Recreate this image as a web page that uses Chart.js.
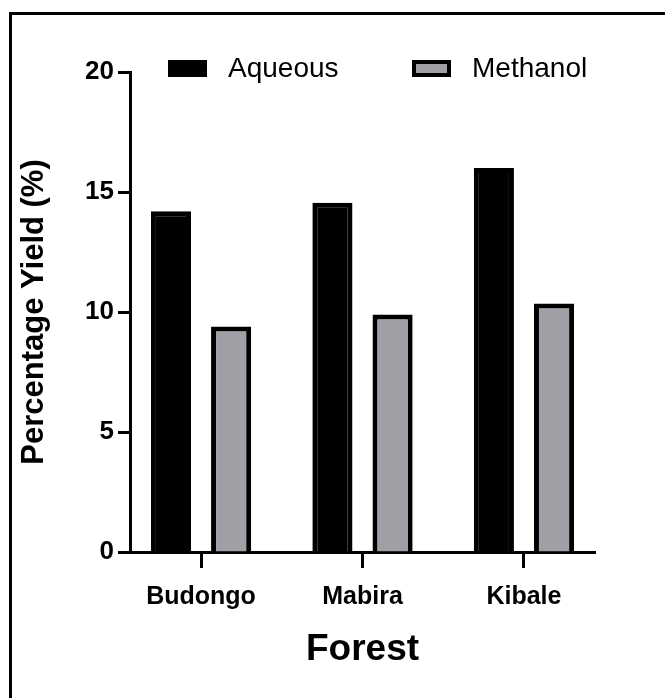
<!DOCTYPE html>
<html>
<head>
<meta charset="utf-8">
<script src="https://cdn.jsdelivr.net/npm/chart.js@4.4.1/dist/chart.umd.min.js"></script>
<style>
  body { margin: 0; background: #fff; }
  #frame { position: absolute; left: 9px; top: 12px; width: 700px; height: 700px; border-left: 3px solid #000; border-top: 3px solid #000; }
  #wrap { position: absolute; left: 0; top: 0; width: 665px; height: 698px; }
</style>
</head>
<body>
<div id="frame"></div>
<div id="wrap"><canvas id="myChart" width="665" height="698"></canvas></div>
<script>
// yields
var forests = ["Budongo", "Mabira", "Kibale"];
var aqueous = [14.2, 14.55, 16.0];
var methanol = [9.4, 9.9, 10.35];
var yTicks = [0, 5, 10, 15, 20];

var fontFam = "'Liberation Sans', Arial, sans-serif";

// legend drawn by hand so it can sit beside the 20 tick like the figure
var legendX = [168, 412];
var topLegend = {
    id: 'topLegend',
    afterDraw: function (chart) {
        var c = chart.ctx;
        c.save();
        c.font = "28px " + fontFam;
        c.textBaseline = 'middle';
        chart.data.datasets.forEach(function (ds, i) {
            var x = legendX[i];
            c.fillStyle = ds.borderColor;
            c.fillRect(x, 60, 39, 17);
            c.fillStyle = ds.backgroundColor;
            c.fillRect(x + 4, 64, 31, 9);
            c.fillStyle = '#000';
            c.fillText(ds.label, x + 60, 69);
        });
        c.restore();
    }
};

var ctx = document.getElementById('myChart').getContext('2d');
var chart = new Chart(ctx, {
    type: 'bar',
    data: {
        labels: forests,
        datasets: [{
            label: "Aqueous",
            data: aqueous,
            backgroundColor: '#000000',
            borderColor: '#000000',
            borderWidth: 5
        }, {
            label: "Methanol",
            data: methanol,
            backgroundColor: '#a09fa5',
            borderColor: '#000000',
            borderWidth: 5
        }]
    },
    plugins: [topLegend],
    options: {
        responsive: false,
        animation: false,
        layout: { padding: { top: 72, left: 0, right: 70, bottom: 26 } },
        datasets: { bar: { categoryPercentage: 0.745, barPercentage: 0.667 } },
        plugins: {
            tooltip: { enabled: false },
            legend: { display: false }
        },
        scales: {
            x: {
                offset: true,
                // figure leaves a bit less than half a category at each end
                afterBuildTicks: function (scale) {
                    scale._startValue = -0.44;
                    scale._valueRange = forests.length - 1 + 0.88;
                },
                grid: { display: true, offset: false, drawOnChartArea: false, drawTicks: true, tickLength: 16, tickWidth: 3, color: '#000' },
                border: { display: true, width: 3, color: '#000' },
                ticks: { color: '#000', padding: 14, font: { family: fontFam, size: 25, weight: 'bold' } },
                title: { display: true, text: 'Forest', color: '#000', padding: { top: 0, bottom: 0 }, font: { family: fontFam, size: 37, weight: 'bold' } },
                afterFit: function (scale) { scale.height = 120; }
            },
            y: {
                min: yTicks[0],
                max: yTicks[yTicks.length - 1],
                grid: { display: true, drawOnChartArea: false, drawTicks: true, tickLength: 12, tickWidth: 3, color: '#000' },
                border: { display: true, width: 3, color: '#000' },
                ticks: { stepSize: yTicks[1] - yTicks[0], color: '#000', padding: 4, font: { family: fontFam, size: 26, weight: 'bold' } },
                title: { display: true, text: 'Percentage Yield (%)', color: '#000', padding: { top: 16, bottom: 0 }, font: { family: fontFam, size: 31, weight: 'bold' } },
                afterFit: function (scale) { scale.width = 130; }
            }
        }
    }
});
</script>
</body>
</html>
